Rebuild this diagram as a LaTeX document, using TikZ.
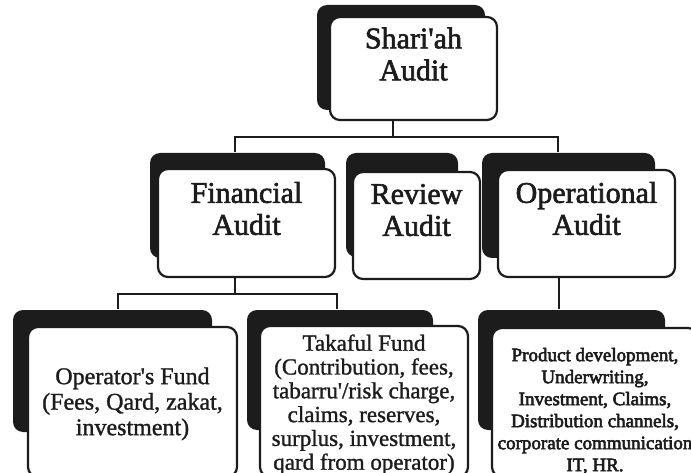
\documentclass[tikz,border=0pt]{standalone}
\usepackage{fontspec}
\setmainfont{Liberation Serif}
\newfontfamily\headfont{Liberation Serif}[FakeBold=2]
\newfontfamily\fundfont{Liberation Serif}[FakeBold=1.2]
\newfontfamily\listfont{Liberation Serif}[FakeBold=3]
\usetikzlibrary{positioning}
\definecolor{auditBlack}{RGB}{28,28,28}

\begin{document}
\begin{tikzpicture}[x=1pt, y=-1pt, line width=2.2pt,
        box/.style={draw=auditBlack, fill=white, rounded corners=10pt, inner sep=0pt},
        back/.style={fill=auditBlack, rounded corners=10pt, inner sep=0pt},
        head/.style={align=center, inner sep=0pt, text=auditBlack, font=\headfont\fontsize{30}{32}\selectfont},
        fund/.style={align=center, inner sep=0pt, text=auditBlack},
        link/.style={draw=auditBlack, line width=2pt}]
    \useasboundingbox (0,0) rectangle (691,473);
    \coordinate (b1) at (393,137);
    \coordinate (t1) at (235,137);
    \coordinate (t2) at (558,137);
    \coordinate (b2) at (235,294);
    \coordinate (t3) at (118,294);
    \coordinate (t4) at (337,294);
    \coordinate (t5) at (559,294);
    \node[back, minimum width=168, minimum height=105] (sa-sh) at (401,57.5) {};
    \node[back, minimum width=175, minimum height=105] (fa-sh) at (237.5,205.5) {};
    \node[back, minimum width=112, minimum height=104] (ra-sh) at (402,205) {};
    \node[back, minimum width=173, minimum height=105] (oa-sh) at (568.5,205.5) {};
    \node[back, minimum width=199, minimum height=122] (of-sh) at (112.5,371) {};
    \node[back, minimum width=186, minimum height=120] (tf-sh) at (340,370) {};
    \node[back, minimum width=187, minimum height=120] (od-sh) at (571.5,370) {};
    \node[box, minimum width=167, minimum height=103] (sa) at (413.5,68.5) {};
    \node[box, minimum width=177, minimum height=108] (fa) at (246.5,223) {};
    \node[box, minimum width=127, minimum height=107] (ra) at (416.5,225.5) {};
    \node[box, minimum width=177, minimum height=107] (oa) at (586.5,223.5) {};
    \node[box, minimum width=209, minimum height=150] (of) at (132.5,402) {};
    \node[box, minimum width=208, minimum height=151] (tf) at (364,401.5) {};
    \node[box, minimum width=206, minimum height=149] (od) at (595,402.5) {};
    \node[head, below=10.5pt of sa.north] (sa-t) {Shari\textquotesingle ah\\Audit};
    \node[head, below=13pt of fa.north] (fa-t) {Financial\\Audit};
    \node[head, below=12pt of ra.north] (ra-t) {Review\\Audit};
    \node[head, below=12pt of oa.north] (oa-t) {Operational\\Audit};
    \node[fund, font=\fundfont\fontsize{24}{25.5}\selectfont, below=40.5pt of of.north] (of-t)
        {Operator\textquotesingle s Fund\\(Fees, Qard, zakat,\\investment)};
    \node[fund, font=\fundfont\fontsize{23}{23.8}\selectfont, below=8.5pt of tf.north] (tf-t)
        {Takaful Fund\\(Contribution, fees,\\tabarru\textquotesingle/risk charge,\\claims, reserves,\\surplus, investment,\\qard from operator)};
    \node[fund, font=\listfont\fontsize{19}{22}\selectfont, below=20pt of od.north] (od-t)
        {Product development,\\Underwriting,\\Investment, Claims,\\Distribution channels,\\corporate communication\\IT, HR.};
    \draw[link] (sa.south -| b1) -- (b1);
    \draw[link] (fa-sh.north -| t1) |- (t2) -- (oa-sh.north -| t2);
    \draw[link] (fa.south -| b2) -- (b2);
    \draw[link] (of-sh.north -| t3) |- (t4) -- (tf-sh.north -| t4);
    \draw[link] (oa.south -| t5) -- (od-sh.north -| t5);
\end{tikzpicture}
\end{document}
